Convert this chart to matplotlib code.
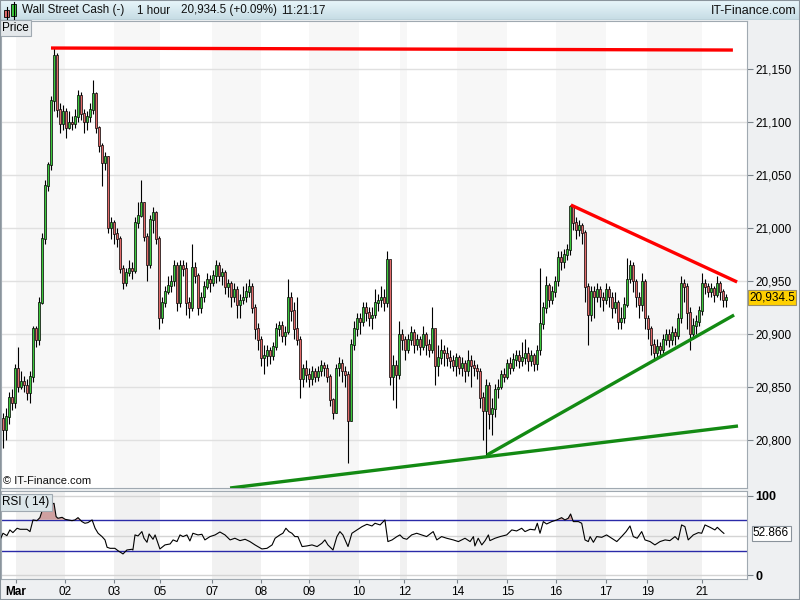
import matplotlib
matplotlib.use('Agg')
import numpy as np
import matplotlib.pyplot as plt
from matplotlib.patches import Rectangle
from matplotlib.colors import LinearSegmentedColormap

plt.rcParams['font.family'] = ['Liberation Sans', 'DejaVu Sans']

# hourly candles, Wall Street Cash
first_open = 20820
closes = [20810, 20822, 20840, 20835, 20868, 20850, 20855, 20852, 20845, 20860,
          20905, 20895, 20930, 20990, 21040, 21060, 21120, 21163, 21112, 21098,
          21110, 21095, 21100, 21098, 21105, 21125, 21108, 21100, 21105, 21112,
          21127, 21095, 21078, 21062, 21068, 21000, 21005, 20995, 20990, 20962,
          20948, 20958, 20962, 20960, 21005, 21012, 21024, 20992, 20965, 21008,
          21015, 20990, 20915, 20930, 20940, 20946, 20950, 20965, 20930, 20965,
          20962, 20930, 20925, 20963, 20955, 20925, 20935, 20945, 20952, 20948,
          20955, 20965, 20955, 20958, 20945, 20948, 20935, 20942, 20928, 20932,
          20935, 20940, 20945, 20925, 20905, 20895, 20878, 20880, 20885, 20880,
          20888, 20905, 20908, 20898, 20902, 20935, 20922, 20905, 20895, 20858,
          20868, 20862, 20858, 20865, 20860, 20865, 20870, 20868, 20860, 20838,
          20826, 20868, 20872, 20865, 20862, 20818, 20890, 20905, 20915, 20912,
          20925, 20920, 20915, 20918, 20930, 20932, 20935, 20930, 20970, 20860,
          20870, 20862, 20900, 20895, 20885, 20895, 20902, 20890, 20895, 20888,
          20900, 20890, 20885, 20905, 20870, 20878, 20885, 20882, 20878, 20875,
          20870, 20878, 20868, 20872, 20865, 20875, 20870, 20868, 20865, 20840,
          20828, 20852, 20825, 20830, 20848, 20850, 20862, 20860, 20872, 20868,
          20876, 20880, 20875, 20878, 20882, 20875, 20880, 20872, 20885, 20910,
          20925, 20946, 20932, 20940, 20950, 20972, 20968, 20975, 20980, 21020,
          21005, 20998, 21003, 20996, 20945, 20918, 20940, 20935, 20942, 20935,
          20932, 20942, 20935, 20925, 20930, 20912, 20915, 20928, 20952, 20965,
          20950, 20935, 20928, 20950, 20915, 20905, 20890, 20882, 20888, 20885,
          20895, 20900, 20895, 20902, 20898, 20915, 20948, 20945, 20920, 20900,
          20908, 20912, 20922, 20948, 20945, 20940, 20943, 20937, 20948, 20940,
          20932, 20934.5]
highs = [20825, 20830, 20845, 20848, 20872, 20888, 20865, 20860, 20858, 20865,
         20908, 20908, 20935, 20995, 21045, 21062, 21125, 21170, 21165, 21118,
         21116, 21113, 21110, 21106, 21112, 21130, 21128, 21112, 21110, 21118,
         21140, 21128, 21096, 21080, 21072, 21068, 21010, 21008, 21000, 20992,
         20965, 20962, 20970, 20968, 21010, 21025, 21045, 21025, 20995, 21012,
         21020, 21016, 20992, 20935, 20945, 20955, 20956, 20970, 20968, 20970,
         20970, 20968, 20935, 20985, 20968, 20958, 20940, 20950, 20958, 20956,
         20960, 20970, 20968, 20962, 20960, 20952, 20950, 20948, 20945, 20938,
         20945, 20948, 20952, 20948, 20928, 20910, 20898, 20890, 20890, 20888,
         20892, 20910, 20912, 20912, 20908, 20952, 20940, 20930, 20935, 20898,
         20872, 20875, 20868, 20870, 20868, 20870, 20875, 20874, 20872, 20862,
         20840, 20872, 20878, 20876, 20870, 20865, 20895, 20912, 20920, 20920,
         20930, 20930, 20925, 20925, 20942, 20938, 20945, 20942, 20978, 20970,
         20880, 20875, 20912, 20905, 20898, 20900, 20908, 20905, 20900, 20898,
         20908, 20902, 20895, 20925, 20905, 20890, 20895, 20890, 20888, 20885,
         20880, 20882, 20880, 20878, 20875, 20885, 20880, 20875, 20872, 20868,
         20845, 20858, 20855, 20840, 20853, 20858, 20866, 20868, 20876, 20878,
         20882, 20885, 20885, 20892, 20895, 20888, 20885, 20882, 20890, 20962,
         20930, 20955, 20948, 20945, 20955, 20978, 20978, 20980, 20985, 21022,
         21020, 21010, 21008, 21005, 20998, 20948, 20945, 20945, 20948, 20945,
         20940, 20948, 20945, 20940, 20940, 20932, 20925, 20935, 20972, 20970,
         20968, 20952, 20940, 20958, 20952, 20918, 20908, 20895, 20895, 20892,
         20900, 20905, 20905, 20908, 20906, 20920, 20955, 20952, 20948, 20925,
         20915, 20918, 20926, 20958, 20952, 20948, 20948, 20945, 20955, 20950,
         20942, 20938]
lows = [20792, 20800, 20815, 20828, 20830, 20845, 20848, 20845, 20838, 20835,
        20855, 20888, 20890, 20928, 20985, 21035, 21055, 21110, 21105, 21090,
        21092, 21085, 21093, 21092, 21094, 21100, 21102, 21090, 21092, 21100,
        21108, 21090, 21072, 21040, 21055, 20995, 20990, 20985, 20982, 20958,
        20942, 20945, 20955, 20952, 20958, 21000, 21010, 20988, 20950, 20962,
        20995, 20985, 20905, 20910, 20925, 20938, 20940, 20945, 20922, 20925,
        20955, 20918, 20915, 20922, 20948, 20918, 20920, 20930, 20942, 20940,
        20945, 20948, 20950, 20946, 20938, 20935, 20925, 20930, 20915, 20915,
        20928, 20930, 20935, 20920, 20895, 20885, 20870, 20862, 20870, 20872,
        20875, 20885, 20898, 20892, 20890, 20900, 20912, 20895, 20890, 20840,
        20850, 20855, 20850, 20852, 20855, 20856, 20860, 20860, 20855, 20832,
        20820, 20825, 20860, 20855, 20850, 20778, 20818, 20885, 20898, 20900,
        20908, 20912, 20908, 20905, 20915, 20922, 20925, 20922, 20925, 20852,
        20838, 20830, 20858, 20885, 20875, 20882, 20890, 20882, 20885, 20880,
        20885, 20880, 20878, 20882, 20852, 20860, 20872, 20870, 20870, 20868,
        20865, 20860, 20862, 20860, 20855, 20860, 20850, 20860, 20858, 20830,
        20800, 20786, 20810, 20805, 20822, 20840, 20848, 20855, 20858, 20862,
        20865, 20870, 20868, 20870, 20872, 20865, 20870, 20865, 20866, 20880,
        20905, 20920, 20925, 20928, 20935, 20945, 20960, 20962, 20970, 20975,
        20998, 20990, 20992, 20985, 20930, 20890, 20912, 20915, 20930, 20925,
        20922, 20928, 20925, 20915, 20920, 20905, 20905, 20910, 20925, 20948,
        20940, 20925, 20915, 20922, 20905, 20895, 20880, 20875, 20878, 20880,
        20882, 20890, 20888, 20890, 20890, 20895, 20910, 20930, 20905, 20885,
        20895, 20900, 20908, 20918, 20938, 20935, 20935, 20930, 20935, 20932,
        20925, 20925]

# RSI(14), positions in candle units
rsi_t = [-1, 0, 1.3, 2.3, 3.3, 4.7, 5.7, 8, 9, 10, 11.3, 12.3, 13.3, 14.7, 15.7, 17, 17.7,
         18.3, 19.7, 20.7, 21.7, 23, 24, 25, 26.3, 27.3, 28.3, 29.7, 30.7, 31.7, 33, 34,
         34.7, 35.7, 37.3, 38.3, 40, 41.3, 43, 43.3, 44, 45, 46.3, 47, 48, 48.7, 50, 50.7,
         52.3, 54, 55.7, 56.7, 58, 59, 60, 61.3, 62.3, 63.3, 65, 66.3, 67.3, 69, 70.7,
         72.3, 74, 75.7, 77.3, 79, 80.7, 82.3, 84, 86.3, 88, 89.7, 90.7, 92.3, 93.3, 94.3,
         95.3, 96.3, 97.3, 98.3, 99.7, 101.3, 103, 104.7, 106.3, 107.3, 108.3, 110, 111.3,
         112.3, 113.3, 115, 116.3, 118, 119.7, 121.3, 123, 124, 125.7, 127.3, 128.3,
         129.7, 131.3, 132.3, 133.4, 134.6, 136.2, 137.9, 139.6, 141.2, 143.4, 144.6,
         146.2, 147.9, 150.1, 151.8, 154, 155.7, 156.8, 157.3, 158.4, 159.6, 160.7, 161.8,
         162.3, 164, 165.7, 167.9, 169.6, 171.2, 172.9, 174, 175.7, 177.3, 178.1, 179,
         180.1, 181.2, 182.9, 184.6, 186.2, 187.3, 188.4, 189.2, 190.1, 191.8, 192.9, 194,
         195.1, 195.7, 196.8, 197.9, 199.6, 201.2, 202.9, 204.6, 206.2, 207.7, 209, 210.1,
         211.4, 212.9, 214, 215.7, 217.3, 219, 220.7, 222.3, 224, 225.1, 226.2, 227.3,
         228.4, 230.1, 231.8, 232.9, 234, 235.7, 237.3, 238.1, 239.6, 240.3]
rsi_v = [44.6, 53.0, 50.0, 57.2, 53.8, 59.3, 58.0, 58.0, 55.1, 69.8, 68.9, 72.7, 84.5, 87.4,
         88.7, 90.8, 74.0, 71.9, 73.1, 70.6, 69.8, 68.9, 69.8, 72.7, 67.7, 65.6, 66.4, 69.8,
         59.3, 53.0, 48.8, 44.6, 35.3, 34.0, 34.0, 31.1, 26.9, 31.9, 32.8, 31.9, 50.9, 49.6,
         55.1, 46.7, 41.6, 52.1, 45.4, 50.9, 33.2, 38.3, 39.5, 44.6, 42.5, 50.9, 48.8, 50.9,
         43.3, 53.0, 50.9, 51.7, 44.6, 48.8, 50.9, 54.6, 50.9, 44.6, 46.7, 43.7, 45.4, 42.5,
         38.3, 33.2, 34.0, 38.3, 46.7, 50.9, 53.0, 59.3, 55.1, 53.0, 48.8, 48.8, 36.2, 37.0,
         38.3, 36.2, 40.4, 44.6, 38.3, 31.9, 48.8, 55.1, 50.9, 36.2, 53.0, 57.2, 61.4, 64.3,
         62.2, 65.6, 63.5, 69.8, 42.5, 44.6, 48.8, 50.9, 46.7, 45.4, 50.9, 53.0, 50.9, 48.8,
         55.1, 44.6, 48.8, 46.7, 44.6, 42.5, 46.7, 42.5, 48.8, 37.0, 46.7, 38.3, 43.7, 50.9,
         43.7, 46.7, 48.8, 50.9, 57.2, 55.9, 59.3, 55.1, 58.0, 57.2, 65.6, 53.0, 67.7, 64.7,
         67.7, 69.8, 72.7, 69.8, 71.9, 77.3, 67.7, 67.7, 65.6, 44.6, 42.5, 48.8, 41.6, 48.8,
         47.9, 50.9, 46.7, 42.5, 48.8, 55.1, 62.2, 48.8, 46.7, 55.1, 44.6, 42.5, 38.3, 42.5,
         44.6, 43.7, 48.8, 44.6, 63.5, 61.4, 44.6, 50.9, 53.8, 53.0, 63.5, 60.5, 57.2, 60.5,
         55.1, 52.866]

tick_pos = [4.2, 20.8, 37.1, 52.3, 69.6, 86, 102.1, 118.7, 133.8, 151.4, 168.1, 184.2,
            200.9, 214.8, 233]
tick_lab = ['Mar', '02', '03', '05', '07', '08', '09', '10', '12', '14', '15', '16',
            '17', '19', '21']
# shaded sessions (start, end) in candle units
band_start = [4.2, 37, 69.6, 102, 132.3, 151.3, 184.3, 214.7]
band_end = [20.8, 52.3, 86, 118.7, 134.7, 168, 201, 233]

# trend lines drawn on the chart: (t0, p0, t1, p1)
red_lines = [(16, 21169.8, 243.3, 21167.9), (189.3, 21021.7, 244.7, 20949.1)]
green_lines = [(161.3, 20785.8, 243.7, 20917.9), (75.7, 20754.7, 245, 20813.2)]

last_price = 20934.5

W, H = 800, 600


def rect(x0, y0, x1, y1):
    return [x0 / W, 1 - y1 / H, (x1 - x0) / W, (y1 - y0) / H]


fig = plt.figure(figsize=(8, 6), dpi=100, facecolor='#eef0f2')

# header bar
hd = fig.add_axes(rect(0, 0, 800, 20))
hd.set_xlim(0, 800)
hd.set_ylim(20, 0)
hd.axis('off')
cm = LinearSegmentedColormap.from_list('hdr', ['#e8f6fb', '#c6dce4'])
hd.imshow(np.linspace(0, 1, 20)[:, None], cmap=cm, extent=(0, 800, 20, 0), aspect='auto')
hd.plot([0, 800], [19.5, 19.5], color='#98a4ac', lw=1)
hd.plot([6.5, 6.5], [7, 19], color='k', lw=0.8)
hd.add_patch(Rectangle((4, 10), 5, 7, fc='#e26a6a', ec='k', lw=0.6))
hd.plot([13.5, 13.5], [2, 19], color='k', lw=0.8)
hd.add_patch(Rectangle((11, 4), 5, 12, fc='#3cc83c', ec='k', lw=0.6))
for xx, s in [(22, 'Wall Street Cash (-)'), (137, '1 hour'),
              (181, '20,934.5 (+0.09%)'), (281, '11:21:17')]:
    hd.text(xx, 10.5, s, va='center', ha='left', fontsize=8.4, color='#111111')
hd.text(797, 10.5, 'IT-Finance.com', va='center', ha='right', fontsize=9, color='#111111')

# price panel
ax = fig.add_axes(rect(1, 21, 747, 488))
ax.set_facecolor('white')
ax.set_xlim(-0.667, 248)
ax.set_ylim(20754.7, 21195.3)
for a, b in zip(band_start, band_end):
    ax.axvspan(a, b, color='#f7f7f7', lw=0, zorder=0)
yt = list(range(20800, 21151, 50))
for v in yt:
    ax.axhline(v, color='#e0e0e0', lw=1, zorder=1)
ax.set_yticks(yt)
ax.set_yticklabels([f'{v:,}' for v in yt])
for lab, v in zip(ax.get_yticklabels(), yt):
    if v == 21000:
        lab.set_fontweight('bold')
ax.yaxis.tick_right()
ax.tick_params(axis='y', length=4, color='#7a838b', labelsize=8.5, pad=2)
ax.set_xticks([])
for sp in ax.spines.values():
    sp.set_color('#a0a9b1')

idx = np.arange(len(closes))
c = np.array(closes)
o = np.array([first_open] + closes[:-1])
up = c >= o
ax.vlines(idx, lows, highs, color='k', lw=0.8, zorder=2)
ax.bar(idx, np.abs(c - o) + 0.6, bottom=np.minimum(o, c) - 0.3, width=0.95,
       color=np.where(up, '#3cc83c', '#e26a6a'), edgecolor='k', linewidth=0.5, zorder=3)

for t0, p0, t1, p1 in red_lines:
    ax.plot([t0, t1], [p0, p1], color='#ff0000', lw=2.4, solid_capstyle='butt', zorder=4)
for t0, p0, t1, p1 in green_lines:
    ax.plot([t0, t1], [p0, p1], color='#138a13', lw=2.4, solid_capstyle='butt', zorder=4)

ax.text(1.0027, last_price, f'{last_price:,.1f}', transform=ax.get_yaxis_transform(),
        ha='left', va='center', fontsize=8.5, clip_on=False,
        bbox=dict(boxstyle='square,pad=0.12', fc='#ffd000', ec='#9a8f6a', lw=0.8))
ax.text(0.003, 0.016, '\u00a9 IT-Finance.com', transform=ax.transAxes, fontsize=8,
        ha='left', va='center', color='#111111')
ax.text(0.002, 0.985, 'Price', transform=ax.transAxes, fontsize=8.5, ha='left', va='center',
        bbox=dict(boxstyle='square,pad=0.18', fc='#e4e8eb', ec='#a0a9b1', lw=0.8))

# RSI panel
rx = fig.add_axes(rect(1, 491, 747, 579))
rx.set_facecolor('white')
rx.set_xlim(-0.667, 248)
rx.set_ylim(-4.7, 106.3)
for a, b in zip(band_start, band_end):
    rx.axvspan(a, b, color='#f1f1f1', lw=0, zorder=0)
for v in [0, 50, 100]:
    rx.axhline(v, color='#d4d4d4', lw=1, zorder=1)
for v in [30, 70]:
    rx.axhline(v, color='#2a2aa8', lw=1, zorder=2)
rv = np.array(rsi_v)
rx.fill_between(rsi_t, rv, 70, where=rv > 70, interpolate=True, color='#cfa0a0',
                lw=0, zorder=2)
rx.plot(rsi_t, rsi_v, color='k', lw=0.8, zorder=3)
rx.yaxis.tick_right()
rx.set_yticks([0, 100])
rx.set_yticklabels(['0', '100'], fontweight='bold')
rx.tick_params(axis='y', length=4, color='#7a838b', labelsize=9, pad=2)
rx.set_xticks(tick_pos)
rx.set_xticklabels(tick_lab)
rx.get_xticklabels()[0].set_fontweight('bold')
rx.tick_params(axis='x', length=3, color='#7a838b', labelsize=8.5, pad=2)
for sp in rx.spines.values():
    sp.set_color('#a0a9b1')
rx.text(1.0080, rsi_v[-1], f'{rsi_v[-1]:.3f}', transform=rx.get_yaxis_transform(),
        ha='left', va='center', fontsize=8.5, clip_on=False,
        bbox=dict(boxstyle='square,pad=0.12', fc='white', ec='#8a939b', lw=0.8))
rx.text(0.002, 0.87, 'RSI ( 14)', transform=rx.transAxes, fontsize=8.5, ha='left', va='center',
        bbox=dict(boxstyle='square,pad=0.18', fc='#dce6ea', ec='#a0a9b1', lw=0.8))

fig.add_artist(Rectangle((0, 0), 1, 1, transform=fig.transFigure, fill=False,
                         ec='#8a949c', lw=1.5))

fig.savefig('out.png', dpi=100, facecolor=fig.get_facecolor())
